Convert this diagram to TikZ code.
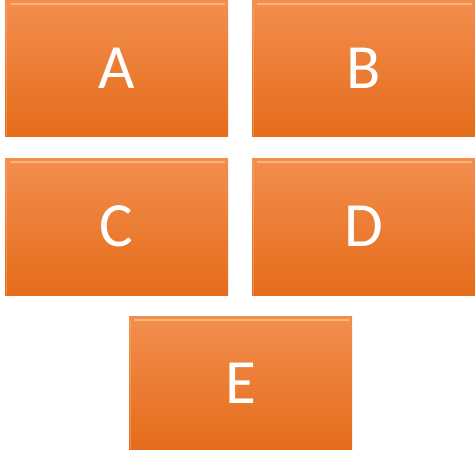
\documentclass[tikz,border=0pt]{standalone}
\usepackage{fontspec}
\setmainfont{Carlito}
\definecolor{otop}{RGB}{243,142,78}
\definecolor{obot}{RGB}{228,108,26}
\definecolor{hilite}{RGB}{255,190,135}
\begin{document}
\begin{tikzpicture}[x=1pt,y=-1pt,
  tile/.style={minimum width=223pt,minimum height=136pt,inner sep=0pt,
    top color=otop,bottom color=obot,draw=none,text=white,
    font=\fontsize{63}{63}\selectfont}]
\useasboundingbox (0,0) rectangle (475,450);
\node[tile,anchor=north west] (a) at (5,0) {A};
\node[tile,anchor=north west] (b) at (252,0) {B};
\node[tile,anchor=north west,minimum height=137pt] (c) at (5,158) {C};
\node[tile,anchor=north west,minimum height=137pt] (d) at (252,158) {D};
\node[tile,anchor=north west,minimum height=134pt] (e) at (129,316) {E};
\foreach \n in {a,b,c,d,e}{
  \draw[hilite,opacity=0.8,line width=1.5pt] ([xshift=5pt,yshift=-4pt]\n.north west) -- ([xshift=-3pt,yshift=-4pt]\n.north east);
  \draw[hilite,opacity=0.4,line width=1pt] ([xshift=1pt,yshift=-4pt]\n.north west) -- ([xshift=1pt]\n.south west);
}
\end{tikzpicture}
\end{document}
